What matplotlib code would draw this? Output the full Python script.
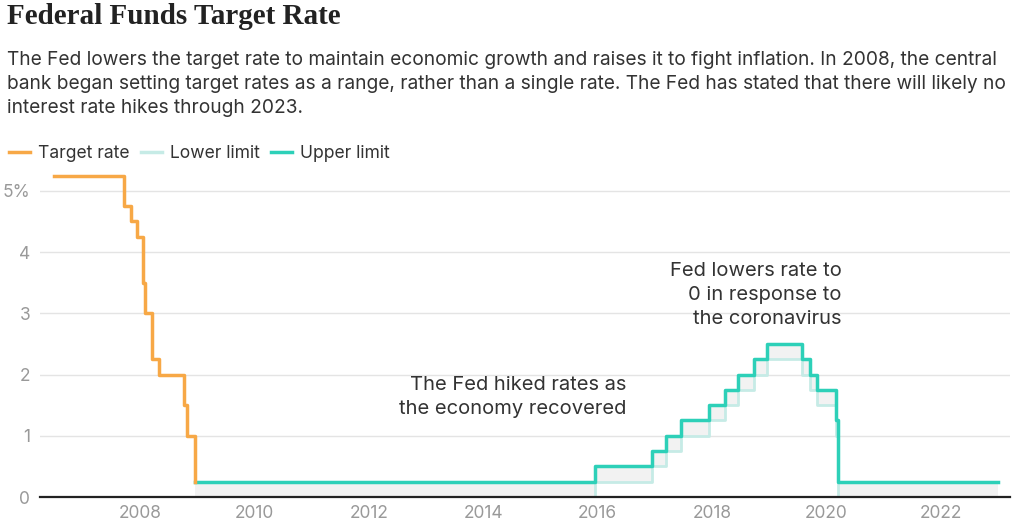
import matplotlib.pyplot as plt
import matplotlib.dates as mdates
import pandas as pd

# Fed funds target rate (single rate, before Dec 2008)
target_dates = ['2006-06-29', '2007-09-18', '2007-10-31', '2007-12-11', '2008-01-22',
                '2008-01-30', '2008-03-18', '2008-04-30', '2008-10-08', '2008-10-29',
                '2008-12-16']
target_rates = [5.25, 4.75, 4.50, 4.25, 3.50, 3.00, 2.25, 2.00, 1.50, 1.00, 0.25]

# target range (from Dec 2008)
range_dates = ['2008-12-16', '2015-12-16', '2016-12-14', '2017-03-15', '2017-06-14',
               '2017-12-13', '2018-03-21', '2018-06-13', '2018-09-26', '2018-12-19',
               '2019-07-31', '2019-09-18', '2019-10-30', '2020-03-03', '2020-03-15',
               '2022-12-31']
lower_limit = [0, 0.25, 0.50, 0.75, 1.00, 1.25, 1.50, 1.75, 2.00, 2.25,
               2.00, 1.75, 1.50, 1.00, 0, 0]
upper_limit = [0.25, 0.50, 0.75, 1.00, 1.25, 1.50, 1.75, 2.00, 2.25, 2.50,
               2.25, 2.00, 1.75, 1.25, 0.25, 0.25]

tick_years = list(range(2008, 2023, 2))

ORANGE = '#f7a846'
TEAL = '#2dd0b8'
TEAL_LIGHT = '#c6ebe6'
FONT = 'Inter'

td = pd.to_datetime(target_dates)
rd = pd.to_datetime(range_dates)

fig = plt.figure(figsize=(10.29, 5.32), dpi=100)
ax = fig.add_axes([40 / 1029, 1 - 497 / 532, 970 / 1029, 327 / 532])

ax.fill_between(rd, lower_limit, upper_limit, step='post', color='#f2f2f2', lw=0, zorder=1)
ax.plot(rd, lower_limit, drawstyle='steps-post', color=TEAL_LIGHT, lw=2, zorder=2)
ax.plot(rd, upper_limit, drawstyle='steps-post', color=TEAL, lw=2.5, zorder=3)
ax.plot(td, target_rates, drawstyle='steps-post', color=ORANGE, lw=2.5, zorder=4)

ax.set_xlim(pd.Timestamp('2006-04-01'), pd.Timestamp('2023-03-18'))
ax.set_ylim(0, 5.34)
ax.set_xticks([pd.Timestamp(f'{y}-01-01') for y in tick_years])
ax.xaxis.set_major_formatter(mdates.DateFormatter('%Y'))
ax.set_yticks([0, 1, 2, 3, 4, 5])
ax.set_yticklabels(['0', '1', '2', '3', '4', '5%'])
ax.tick_params(length=0, labelsize=12.5, labelcolor='#999999', pad=6)
ax.tick_params(axis='y', pad=7)
for lab in ax.get_xticklabels() + ax.get_yticklabels():
    lab.set_family(FONT)
ax.grid(axis='y', color='#e4e4e4', lw=1)
ax.set_axisbelow(True)
for s in ['top', 'right', 'left']:
    ax.spines[s].set_visible(False)
ax.spines['bottom'].set_color('#222222')
ax.spines['bottom'].set_linewidth(1.6)
ax.spines['bottom'].set_zorder(5)

ax.text(pd.Timestamp('2016-07-05'), 1.64, 'The Fed hiked rates as\nthe economy recovered',
        ha='right', va='center', fontsize=14.5, color='#333333', family=FONT, linespacing=1.42)
ax.text(pd.Timestamp('2020-04-08'), 3.30, 'Fed lowers rate to\n0 in response to\nthe coronavirus',
        ha='right', va='center', fontsize=14.5, color='#333333', family=FONT, linespacing=1.42)

fig.text(7 / 1029, 1 - 17 / 532, 'Federal Funds Target Rate', fontsize=21, fontweight='bold',
         family='Liberation Serif', color='#222222', va='center')
fig.text(7 / 1029, 1 - 84 / 532,
         'The Fed lowers the target rate to maintain economic growth and raises it to fight inflation. '
         'In 2008, the central\nbank began setting target rates as a range, rather than a single rate. '
         'The Fed has stated that there will likely no\ninterest rate hikes through 2023.',
         fontsize=13.8, family=FONT, color='#333333', va='center', linespacing=1.45)

handles = [plt.Line2D([], [], color=ORANGE, lw=2.5),
           plt.Line2D([], [], color=TEAL_LIGHT, lw=2.5),
           plt.Line2D([], [], color=TEAL, lw=2.5)]
fig.legend(handles, ['Target rate', 'Lower limit', 'Upper limit'], loc='center left',
           bbox_to_anchor=(-7 / 1029, 1 - 154 / 532), ncol=3, frameon=False,
           handlelength=1.2, handletextpad=0.5, columnspacing=0.6,
           prop={'family': FONT, 'size': 12.6}, labelcolor='#333333')

fig.savefig('out.png', dpi=100)
